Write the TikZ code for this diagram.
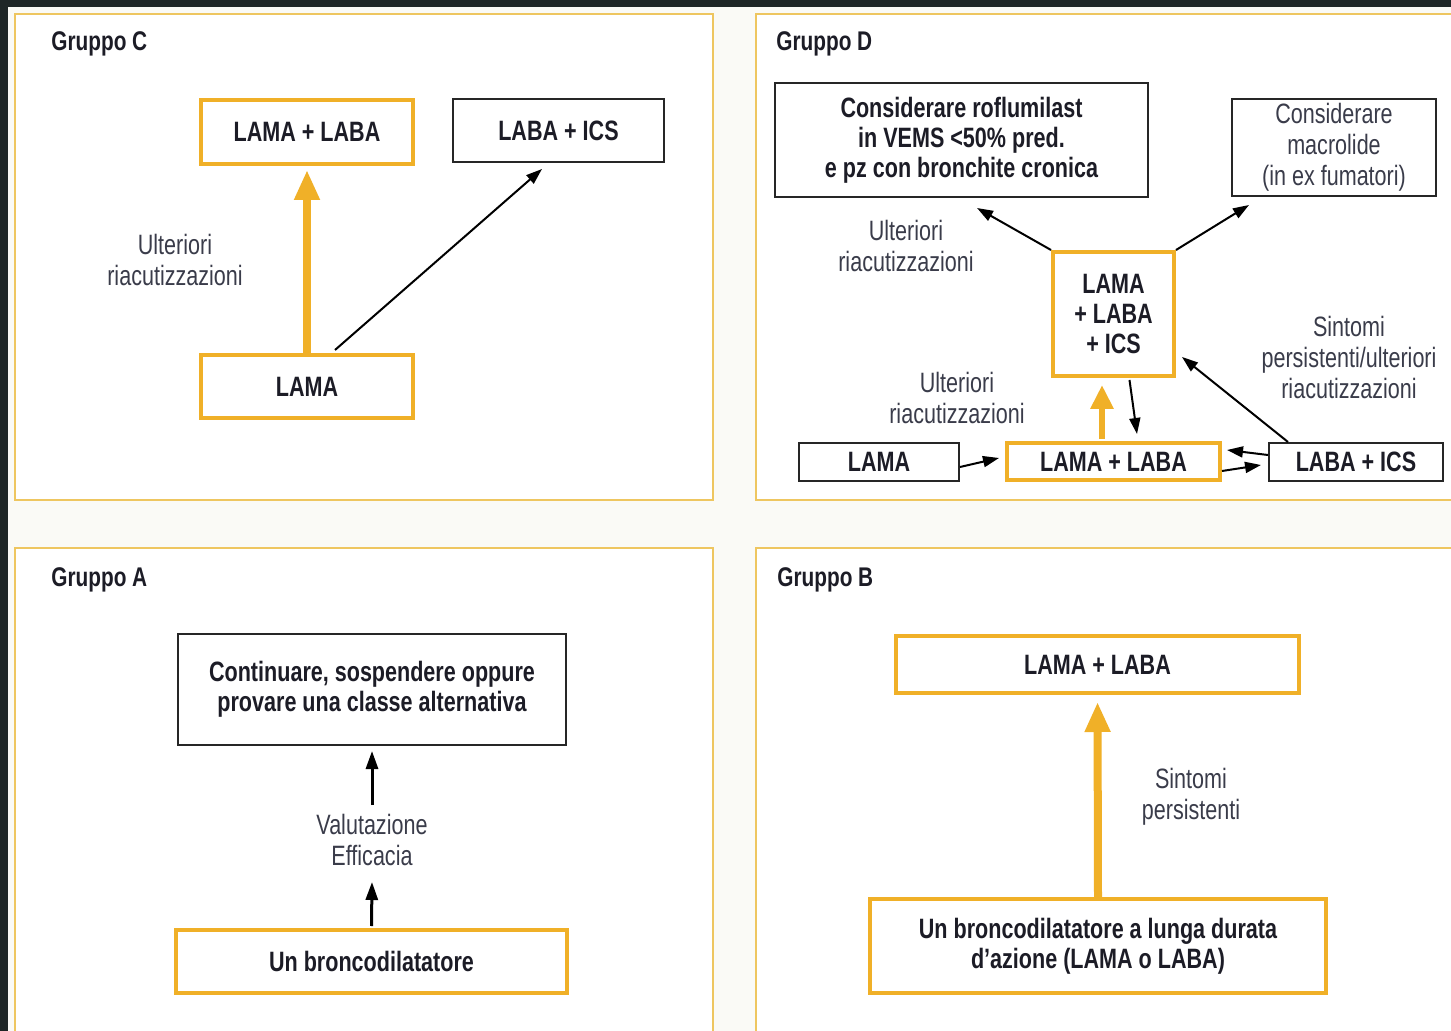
\documentclass[tikz,border=0pt]{standalone}
\usepackage{fontspec}
\setmainfont{Liberation Sans}[FakeStretch=0.77]
\usetikzlibrary{arrows.meta}
\definecolor{gold}{HTML}{F0B028}
\definecolor{panelc}{HTML}{EEC660}
\definecolor{darkbg}{HTML}{1E2626}
\definecolor{txt}{HTML}{1C1C26}
\definecolor{lab}{HTML}{3A3C4A}
\definecolor{offw}{HTML}{FAFAF6}
\begin{document}
\begin{tikzpicture}[x=0.5pt,y=-0.5pt,
 every node/.style={font=\fontsize{14}{15}\selectfont},
 obox/.style={draw=gold, line width=2pt, fill=white, text=txt, font=\fontsize{14}{15}\selectfont\bfseries, align=center, inner sep=0pt},
 kbox/.style={draw=black!85, line width=1pt, fill=white, text=txt, font=\fontsize{14}{15}\selectfont\bfseries, align=center, inner sep=0pt},
 kboxr/.style={kbox, text=lab, font=\fontsize{14}{15.5}\selectfont},
 lbl/.style={text=lab, align=center, inner sep=0pt, font=\fontsize{14}{15.5}\selectfont},
 head/.style={text=txt, font=\fontsize{13.5}{15}\selectfont\bfseries, anchor=west, inner sep=0pt},
 oarr/.style={draw=gold, line width=4pt, -{Triangle[length=15pt,width=12pt]}},
 oarrS/.style={draw=gold, line width=3pt, -{Triangle[length=12pt,width=11pt]}},
 karr/.style={draw=black, line width=1pt, -{Triangle[length=8pt,width=5.5pt]}},
 karrA/.style={draw=black, line width=1.5pt, -{Triangle[length=9pt,width=6pt]}},
 panel/.style={draw=panelc, line width=1pt, fill=white}
]
\useasboundingbox (0,0) rectangle (1451,1031);
\clip (0,0) rectangle (1451,1031);
\fill[darkbg] (0,0) rectangle (1451,1031);
\fill[offw] (8,7) rectangle (1460,1040);
% panels
\draw[panel] (15,14) rectangle (713,500);
\draw[panel] (756,14) rectangle (1470,500);
\draw[panel] (15,548) rectangle (713,1050);
\draw[panel] (756,548) rectangle (1470,1050);

% ---------- Gruppo C ----------
\node[head] (hC) at (51,44) {Gruppo C};
\node[obox, minimum width=106pt, minimum height=32pt] (cLL) at (307,132) {LAMA + LABA};
\node[kbox, minimum width=105.5pt, minimum height=31.5pt] (cLI) at (558.5,130.5) {LABA + ICS};
\node[obox, minimum width=106pt, minimum height=31.5pt] (cLAMA) at (307,386.5) {LAMA};
\node[lbl] (cU) at (175,260) {Ulteriori\\riacutizzazioni};
\draw[oarr, shorten >=2pt] (cLAMA.north) -- (cLL.south);
\draw[karr] ([xshift=14pt,yshift=1.5pt]cLAMA.north) -- ([xshift=-8.25pt,yshift=-3pt]cLI.south);

% ---------- Gruppo D ----------
\node[head] (hD) at (776,44) {Gruppo D};
\node[kbox, minimum width=186.5pt, minimum height=57pt] (dR) at (961.5,140) {Considerare roflumilast\\in VEMS <50\% pred.\\e pz con bronchite cronica};
\node[kboxr, minimum width=102pt, minimum height=48.5pt] (dM) at (1334,147.5) {Considerare\\macrolide\\(in ex fumatori)};
\node[obox, minimum width=60.5pt, minimum height=62pt] (dT) at (1113.5,314) {LAMA\\+ LABA\\+ ICS};
\node[kbox, minimum width=80pt, minimum height=19pt] (dLAMA) at (879,462) {LAMA};
\node[obox, minimum width=106.5pt, minimum height=18.5pt] (dLL) at (1113.5,461.5) {LAMA + LABA};
\node[kbox, minimum width=87pt, minimum height=19pt] (dLI) at (1356,462) {LABA + ICS};
\node[lbl] (dU1) at (906,246) {Ulteriori\\riacutizzazioni};
\node[lbl] (dU2) at (957,398) {Ulteriori\\riacutizzazioni};
\node[lbl] (dS) at (1349,357) {Sintomi\\persistenti/ulteriori\\riacutizzazioni};
\draw[karr] (dT.north west) -- ([xshift=101.5pt,yshift=-5pt]dR.south west);
\draw[karr] (dT.north east) -- ([xshift=9pt,yshift=-4pt]dM.south west);
\draw[oarrS, shorten >=3.5pt, shorten <=1pt] ([xshift=-5.75pt]dLL.north) -- ([xshift=-5.75pt]dT.south);
\draw[karr] ([xshift=8pt,yshift=-1pt]dT.south) -- ([xshift=11.75pt,yshift=3.5pt]dLL.north);
\draw[karr] ([yshift=-2.5pt]dLAMA.east) -- ([xshift=-3pt,yshift=1.75pt]dLL.west);
\draw[karr] ([yshift=3.5pt]dLI.west) -- ([xshift=2.5pt,yshift=5.75pt]dLL.east);
\draw[karr] ([yshift=-4.75pt]dLL.east) -- ([xshift=-3.5pt,yshift=-1.5pt]dLI.west);
\draw[karr] ([xshift=-34pt]dLI.north) -- ([xshift=3pt,yshift=-21.5pt]dT.east);

% ---------- Gruppo A ----------
\node[head] (hA) at (51,580) {Gruppo A};
\node[kbox, minimum width=194pt, minimum height=55.5pt] (aTop) at (372,689.5) {Continuare, sospendere oppure\\provare una classe alternativa};
\node[obox, minimum width=195.5pt, minimum height=31.5pt] (aBot) at (371.5,961.5) {Un broncodilatatore};
\node[lbl] (aL) at (372,840) {Valutazione\\Efficacia};
\draw[karrA] ([yshift=17.5pt]aL.center) -- ([yshift=-2.5pt]aTop.south);
\draw[karrA] ([yshift=1pt]aBot.north) -- ([yshift=-21pt]aL.center);

% ---------- Gruppo B ----------
\node[head] (hB) at (777,580) {Gruppo B};
\node[obox, minimum width=201.5pt, minimum height=28.5pt] (bTop) at (1097.5,664.5) {LAMA + LABA};
\node[obox, minimum width=228pt, minimum height=47pt] (bBot) at (1098,946) {Un broncodilatatore a lunga durata\\d’azione (LAMA o LABA)};
\node[lbl] (bL) at (1191,797) {Sintomi\\persistenti};
\draw[oarr, shorten >=3.5pt] (bBot.north) -- (bTop.south);
\end{tikzpicture}
\end{document}
